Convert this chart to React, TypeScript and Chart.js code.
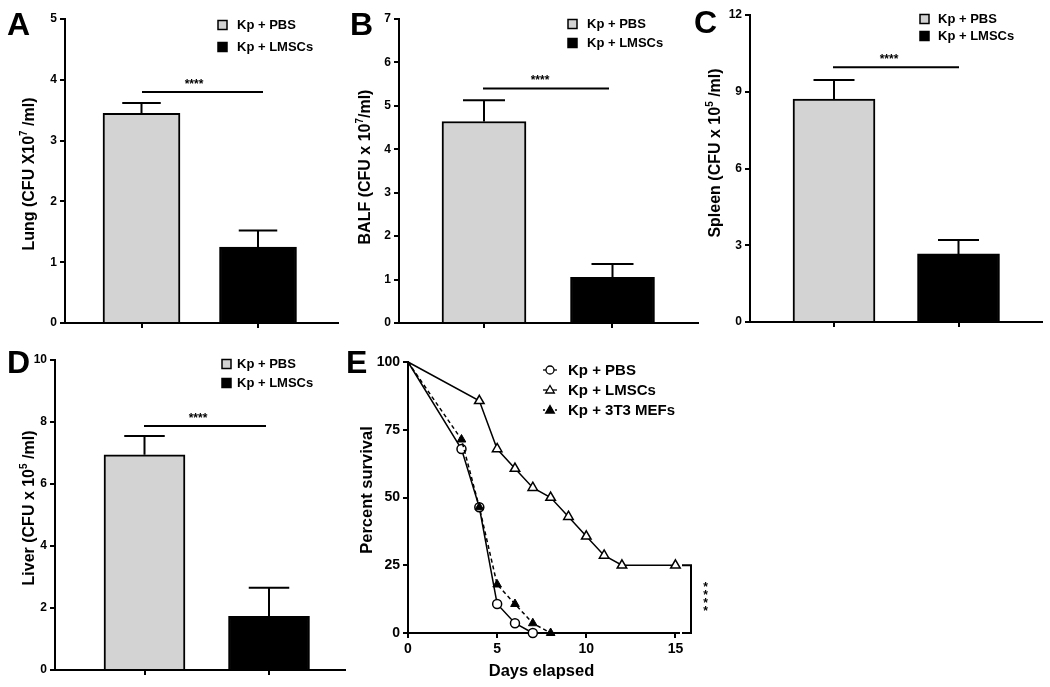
import React, { useEffect, useRef } from 'react';
import { Chart, registerables } from 'chart.js';

Chart.register(...registerables);

const FONT = '"Liberation Sans", Arial, Helvetica, sans-serif';
Chart.defaults.font.family = FONT;
Chart.defaults.color = '#000';

// ---------------- data ----------------
const groups = ['Kp + PBS', 'Kp + LMSCs'];
const barColors = ['#d3d3d3', '#000000'];

const lungMean = [3.45, 1.25];
const lungSem = [0.17, 0.27];
const lungSig = 3.8;

const balfMean = [4.64, 1.05];
const balfSem = [0.49, 0.31];
const balfSig = 5.4;

const spleenMean = [8.71, 2.66];
const spleenSem = [0.75, 0.55];
const spleenSig = 9.96;

const liverMean = [6.94, 1.73];
const liverSem = [0.61, 0.92];
const liverSig = 7.87;

const survivalLabels = ['Kp + PBS', 'Kp + LMSCs', 'Kp + 3T3 MEFs'];
const pbsDays = [0, 3, 4, 5, 6, 7];
const pbsSurv = [100, 67.9, 46.4, 10.7, 3.6, 0];
const lmscDays = [0, 4, 5, 6, 7, 8, 9, 10, 11, 12, 15];
const lmscSurv = [100, 85.7, 67.9, 60.7, 53.6, 50, 42.9, 35.7, 28.6, 25, 25];
const mefDays = [0, 3, 4, 5, 6, 7, 8];
const mefSurv = [100, 71.4, 46.4, 17.9, 10.7, 3.6, 0];
const survXTicks = [0, 5, 10, 15];

// ---------------- helpers ----------------
type Seg = { t: string; sup?: boolean };

function drawRich(ctx: CanvasRenderingContext2D, segs: Seg[], cx: number, cy: number, size: number, rot: number) {
  ctx.save();
  ctx.translate(cx, cy);
  ctx.rotate(rot);
  const main = `bold ${size}px ${FONT}`;
  const sup = `bold ${Math.round(size * 0.65)}px ${FONT}`;
  let total = 0;
  const widths: number[] = [];
  for (const s of segs) {
    ctx.font = s.sup ? sup : main;
    const w = ctx.measureText(s.t).width;
    widths.push(w);
    total += w;
  }
  let x = -total / 2;
  ctx.textBaseline = 'alphabetic';
  ctx.textAlign = 'left';
  ctx.fillStyle = '#000';
  const base = size * 0.36;
  segs.forEach((s, i) => {
    ctx.font = s.sup ? sup : main;
    ctx.fillText(s.t, x, s.sup ? base - size * 0.42 : base);
    x += widths[i];
  });
  ctx.restore();
}

function drawLetter(ctx: CanvasRenderingContext2D, letter: string, x: number, y: number) {
  ctx.save();
  ctx.font = `bold 32px ${FONT}`;
  ctx.fillStyle = '#000';
  ctx.textBaseline = 'alphabetic';
  ctx.textAlign = 'left';
  ctx.fillText(letter, x, y);
  ctx.restore();
}

interface Box { l: number; t: number; w: number; h: number }
interface Area { l: number; t: number; r: number; b: number }

interface BarCfg {
  letter: string; letterX: number; letterY: number;
  box: Box; area: Area;
  centers: [number, number]; barWidth: number;
  yMax: number; yStep: number;
  means: number[]; sems: number[]; sig: number;
  title: Seg[]; titleX: number; titleY: number;
  legSqX: number; legTextX: number; legRows: [number, number];
  sigX: [number, number]; starX: number;
}

const axisStyle = {
  grid: { drawOnChartArea: false, offset: false, color: '#000', lineWidth: 2, tickLength: 5 },
  border: { color: '#000', width: 2 },
};

function BarPanel({ cfg }: { cfg: BarCfg }) {
  const ref = useRef<HTMLCanvasElement>(null);
  useEffect(() => {
    const { box, area } = cfg;
    const [c0, c1] = cfg.centers;
    const unit = c1 - c0;
    const xMin = (area.l - c0) / unit;
    const xMax = (area.r - c0) / unit;
    const decor = {
      id: 'decor' + cfg.letter,
      afterDatasetsDraw(chart: any) {
        const ctx: CanvasRenderingContext2D = chart.ctx;
        const ys = chart.scales.y;
        const meta = chart.getDatasetMeta(0);
        ctx.save();
        ctx.strokeStyle = '#000';
        ctx.lineWidth = 2;
        meta.data.forEach((bar: any, i: number) => {
          const x = bar.x;
          const top = bar.y;
          const w = bar.width;
          const ye = ys.getPixelForValue(cfg.means[i] + cfg.sems[i]);
          ctx.beginPath();
          ctx.moveTo(x, top);
          ctx.lineTo(x, ye);
          ctx.moveTo(x - w / 4, ye);
          ctx.lineTo(x + w / 4, ye);
          ctx.stroke();
        });
        // significance line
        const sy = ys.getPixelForValue(cfg.sig);
        ctx.beginPath();
        ctx.moveTo(cfg.sigX[0] - box.l, sy);
        ctx.lineTo(cfg.sigX[1] - box.l, sy);
        ctx.stroke();
        ctx.font = `bold 12px ${FONT}`;
        ctx.fillStyle = '#000';
        ctx.textAlign = 'center';
        ctx.textBaseline = 'alphabetic';
        ctx.fillText('****', cfg.starX - box.l, sy - 11 + 7);
        ctx.restore();

        // layout decorations in page coordinates
        ctx.save();
        ctx.translate(-box.l, -box.t);
        drawLetter(ctx, cfg.letter, cfg.letterX, cfg.letterY);
        drawRich(ctx, cfg.title, cfg.titleX, cfg.titleY, 16, -Math.PI / 2);
        groups.forEach((g, i) => {
          const cy = cfg.legRows[i];
          ctx.fillStyle = barColors[i];
          ctx.fillRect(cfg.legSqX, cy - 4.5, 9, 9);
          ctx.strokeStyle = '#000';
          ctx.lineWidth = 1.5;
          ctx.strokeRect(cfg.legSqX, cy - 4.5, 9, 9);
          ctx.fillStyle = '#000';
          ctx.font = `bold 13px ${FONT}`;
          ctx.textAlign = 'left';
          ctx.textBaseline = 'middle';
          ctx.fillText(g, cfg.legTextX, cy + 0.5);
        });
        ctx.restore();
      },
    };
    const chart = new Chart(ref.current as HTMLCanvasElement, {
      type: 'bar',
      data: {
        datasets: [
          {
            data: cfg.means.map((v, i) => ({ x: i, y: v })) as any,
            backgroundColor: barColors,
            borderColor: '#000',
            borderWidth: 2,
            barThickness: cfg.barWidth,
            borderSkipped: 'start',
          },
        ],
      },
      options: {
        responsive: false,
        animation: false,
        events: [],
        layout: { padding: { left: 0, top: area.t - box.t, right: box.l + box.w - area.r, bottom: 0 } },
        plugins: { legend: { display: false }, tooltip: { enabled: false } },
        scales: {
          x: {
            type: 'linear',
            min: xMin,
            max: xMax,
            offset: false,
            afterBuildTicks: (s: any) => { s.ticks = [{ value: 0 }, { value: 1 }]; },
            afterFit: (s: any) => { s.height = box.t + box.h - area.b; },
            ticks: { callback: () => '' },
            ...axisStyle,
          },
          y: {
            min: 0,
            max: cfg.yMax,
            afterFit: (s: any) => { s.width = area.l - box.l; },
            ticks: { stepSize: cfg.yStep, color: '#000', font: { size: 12, weight: 'bold' }, padding: 3 },
            ...axisStyle,
          },
        } as any,
      },
      plugins: [decor],
    });
    return () => chart.destroy();
  }, [cfg]);
  return (
    <canvas
      ref={ref}
      width={cfg.box.w}
      height={cfg.box.h}
      style={{ position: 'absolute', left: cfg.box.l, top: cfg.box.t, width: cfg.box.w, height: cfg.box.h }}
    />
  );
}

const panelA: BarCfg = {
  letter: 'A', letterX: 7, letterY: 35,
  box: { l: 0, t: 0, w: 345, h: 340 }, area: { l: 65, t: 19, r: 338, b: 323 },
  centers: [141.5, 258], barWidth: 77,
  yMax: 5, yStep: 1, means: lungMean, sems: lungSem, sig: lungSig,
  title: [{ t: 'Lung (CFU X10' }, { t: '7', sup: true }, { t: ' /ml)' }], titleX: 28, titleY: 174,
  legSqX: 218, legTextX: 237, legRows: [25, 47],
  sigX: [142, 263], starX: 194,
};
const panelB: BarCfg = {
  letter: 'B', letterX: 350, letterY: 35,
  box: { l: 345, t: 0, w: 360, h: 340 }, area: { l: 399, t: 19, r: 698, b: 323 },
  centers: [484, 612.5], barWidth: 84,
  yMax: 7, yStep: 1, means: balfMean, sems: balfSem, sig: balfSig,
  title: [{ t: 'BALF (CFU x 10' }, { t: '7', sup: true }, { t: '/ml)' }], titleX: 364, titleY: 167,
  legSqX: 568, legTextX: 587, legRows: [24, 43],
  sigX: [483, 609], starX: 540,
};
const panelC: BarCfg = {
  letter: 'C', letterX: 694, letterY: 33,
  box: { l: 688, t: 0, w: 362, h: 340 }, area: { l: 750, t: 15, r: 1042, b: 322 },
  centers: [834, 958.5], barWidth: 82,
  yMax: 12, yStep: 3, means: spleenMean, sems: spleenSem, sig: spleenSig,
  title: [{ t: 'Spleen (CFU x 10' }, { t: '5', sup: true }, { t: ' /ml)' }], titleX: 714, titleY: 153,
  legSqX: 920, legTextX: 938, legRows: [19, 36],
  sigX: [833, 959], starX: 889,
};
const panelD: BarCfg = {
  letter: 'D', letterX: 7, letterY: 373,
  box: { l: 0, t: 340, w: 352, h: 347 }, area: { l: 55, t: 360, r: 345, b: 670 },
  centers: [144.5, 269], barWidth: 81,
  yMax: 10, yStep: 2, means: liverMean, sems: liverSem, sig: liverSig,
  title: [{ t: 'Liver (CFU x 10' }, { t: '5', sup: true }, { t: ' /ml)' }], titleX: 28, titleY: 508,
  legSqX: 222, legTextX: 237, legRows: [364, 383],
  sigX: [144, 266], starX: 198,
};

// ---------------- survival panel ----------------
const boxE: Box = { l: 340, t: 340, w: 390, h: 347 };
const areaE: Area = { l: 408, t: 362, r: 679, b: 633 };

function drawTriangle(ctx: CanvasRenderingContext2D, x: number, y: number, r: number, fill: string) {
  ctx.beginPath();
  ctx.moveTo(x, y - r);
  ctx.lineTo(x + r * 0.866, y + r * 0.5);
  ctx.lineTo(x - r * 0.866, y + r * 0.5);
  ctx.closePath();
  ctx.fillStyle = fill;
  ctx.fill();
  ctx.stroke();
}

function SurvivalPanel() {
  const ref = useRef<HTMLCanvasElement>(null);
  useEffect(() => {
    const box = boxE, area = areaE;
    const decor = {
      id: 'decorE',
      afterDraw(chart: any) {
        const ctx: CanvasRenderingContext2D = chart.ctx;
        const ys = chart.scales.y;
        // bracket between LMSC final and PBS final survival
        const y1 = ys.getPixelForValue(lmscSurv[lmscSurv.length - 1]);
        const y2 = ys.getPixelForValue(pbsSurv[pbsSurv.length - 1]);
        const bx = 691 - box.l;
        ctx.save();
        ctx.strokeStyle = '#000';
        ctx.lineWidth = 2;
        ctx.beginPath();
        ctx.moveTo(bx - 9, y1);
        ctx.lineTo(bx, y1);
        ctx.lineTo(bx, y2);
        ctx.lineTo(bx - 9, y2);
        ctx.stroke();
        ctx.fillStyle = '#000';
        ctx.font = `bold 12px ${FONT}`;
        ctx.textAlign = 'center';
        ctx.textBaseline = 'alphabetic';
        const midY = (y1 + y2) / 2 - 3;
        for (let k = 0; k < 4; k++) {
          ctx.fillText('*', 705.5 - box.l, midY - 12 + k * 8 + 7);
        }
        ctx.restore();

        ctx.save();
        ctx.translate(-box.l, -box.t);
        drawLetter(ctx, 'E', 346, 373);
        drawRich(ctx, [{ t: 'Percent survival' }], 366, 490, 16.5, -Math.PI / 2);
        drawRich(ctx, [{ t: 'Days elapsed' }], 541.5, 670, 16.5, 0);
        // legend
        const rows = [370, 390, 410];
        ctx.strokeStyle = '#000';
        ctx.lineWidth = 1.3;
        rows.forEach((cy, i) => {
          ctx.setLineDash(i === 2 ? [2, 2] : []);
          ctx.beginPath();
          ctx.moveTo(543, cy);
          ctx.lineTo(557, cy);
          ctx.stroke();
          ctx.setLineDash([]);
          if (i === 0) {
            ctx.beginPath();
            ctx.arc(550, cy, 4, 0, Math.PI * 2);
            ctx.fillStyle = '#fff';
            ctx.fill();
            ctx.stroke();
          } else {
            drawTriangle(ctx, 550, cy + 0.5, 5, i === 1 ? '#fff' : '#000');
          }
          ctx.fillStyle = '#000';
          ctx.font = `bold 15px ${FONT}`;
          ctx.textAlign = 'left';
          ctx.textBaseline = 'middle';
          ctx.fillText(survivalLabels[i], 568, cy + 0.5);
        });
        ctx.restore();
      },
    };
    const mk = (days: number[], surv: number[]) => days.map((d, i) => ({ x: d, y: surv[i] }));
    const firstHidden = (r: number) => (c: any) => (c.dataIndex === 0 ? 0 : r);
    const chart = new Chart(ref.current as HTMLCanvasElement, {
      type: 'line',
      data: {
        datasets: [
          {
            label: survivalLabels[0],
            data: mk(pbsDays, pbsSurv) as any,
            borderColor: '#000', borderWidth: 1.5, tension: 0,
            pointStyle: 'circle', pointRadius: firstHidden(4.5) as any,
            pointBackgroundColor: '#fff', pointBorderColor: '#000', pointBorderWidth: 1.5,
            clip: false as any, order: 2,
          },
          {
            label: survivalLabels[1],
            data: mk(lmscDays, lmscSurv) as any,
            borderColor: '#000', borderWidth: 1.5, tension: 0,
            pointStyle: 'triangle', pointRadius: firstHidden(5.5) as any,
            pointBackgroundColor: '#fff', pointBorderColor: '#000', pointBorderWidth: 1.5,
            clip: false as any, order: 1,
          },
          {
            label: survivalLabels[2],
            data: mk(mefDays, mefSurv) as any,
            borderColor: '#000', borderWidth: 1.5, borderDash: [4, 3], tension: 0,
            pointStyle: 'triangle', pointRadius: firstHidden(5) as any,
            pointBackgroundColor: '#000', pointBorderColor: '#000', pointBorderWidth: 1,
            clip: false as any, order: 0,
          },
        ],
      },
      options: {
        responsive: false,
        animation: false,
        events: [],
        layout: { padding: { left: 0, top: area.t - box.t, right: box.l + box.w - area.r, bottom: 0 } },
        plugins: { legend: { display: false }, tooltip: { enabled: false } },
        scales: {
          x: {
            type: 'linear',
            min: 0,
            max: 15.2,
            afterBuildTicks: (s: any) => { s.ticks = survXTicks.map((v) => ({ value: v })); },
            afterFit: (s: any) => { s.height = box.t + box.h - area.b; },
            ticks: { color: '#000', font: { size: 14, weight: 'bold' }, padding: 3, maxRotation: 0 },
            ...axisStyle,
          },
          y: {
            min: 0,
            max: 100,
            afterFit: (s: any) => { s.width = area.l - box.l; },
            ticks: { stepSize: 25, color: '#000', font: { size: 14, weight: 'bold' }, padding: 3 },
            ...axisStyle,
          },
        } as any,
      },
      plugins: [decor],
    });
    return () => chart.destroy();
  }, []);
  return (
    <canvas
      ref={ref}
      width={boxE.w}
      height={boxE.h}
      style={{ position: 'absolute', left: boxE.l, top: boxE.t, width: boxE.w, height: boxE.h }}
    />
  );
}

export default function App() {
  return (
    <div style={{ position: 'absolute', left: 0, top: 0, width: 1050, height: 687, background: '#fff', overflow: 'hidden' }}>
      <BarPanel cfg={panelA} />
      <BarPanel cfg={panelB} />
      <BarPanel cfg={panelC} />
      <BarPanel cfg={panelD} />
      <SurvivalPanel />
    </div>
  );
}
